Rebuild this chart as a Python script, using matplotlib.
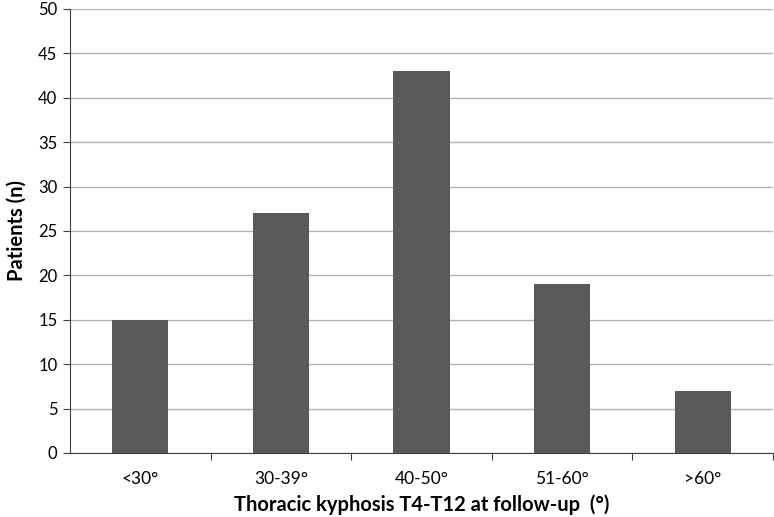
import matplotlib
matplotlib.use("Agg")
import matplotlib.pyplot as plt

categories = ["<30°", "30-39°", "40-50°", "51-60°", ">60°"]
patients = [15, 27, 43, 19, 7]
y_ticks = [0, 5, 10, 15, 20, 25, 30, 35, 40, 45, 50]

plt.rcParams['font.family'] = ['Lato', 'DejaVu Sans']

fig = plt.figure(figsize=(7.74, 5.17), dpi=100)
ax = fig.add_axes([0.0904, 0.1238, 0.9083, 0.8588])

x = list(range(len(categories)))
ax.bar(x, patients, width=0.4, color="#595959", zorder=3)

ax.set_xlim(-0.5, len(categories) - 0.5)
ax.set_ylim(0, 50)
ax.set_yticks(y_ticks)
ax.yaxis.grid(True, color="#b3b3b3", linewidth=1.0, zorder=0)

# tick marks between categories, labels centred
ax.set_xticks([i + 0.5 for i in range(len(categories) - 1)] + [len(categories) - 0.5])
ax.set_xticklabels([])
ax.set_xticks(x, minor=True)
ax.set_xticklabels(categories, minor=True, fontsize=12.5)
ax.tick_params(axis="x", which="minor", length=0, pad=13)
ax.tick_params(axis="x", which="major", length=5, color="#404040")
ax.tick_params(axis="y", length=5, labelsize=12, color="#404040", pad=4)

for s in ["top", "right"]:
    ax.spines[s].set_visible(False)
for s in ["left", "bottom"]:
    ax.spines[s].set_color("#404040")

ax.set_xlabel("Thoracic kyphosis T4-T12 at follow-up  (°)", fontsize=14.5, fontweight="bold", labelpad=5)
ax.set_ylabel("Patients (n)", fontsize=14.5, fontweight="bold", labelpad=8)

fig.savefig("out.png", dpi=100)
